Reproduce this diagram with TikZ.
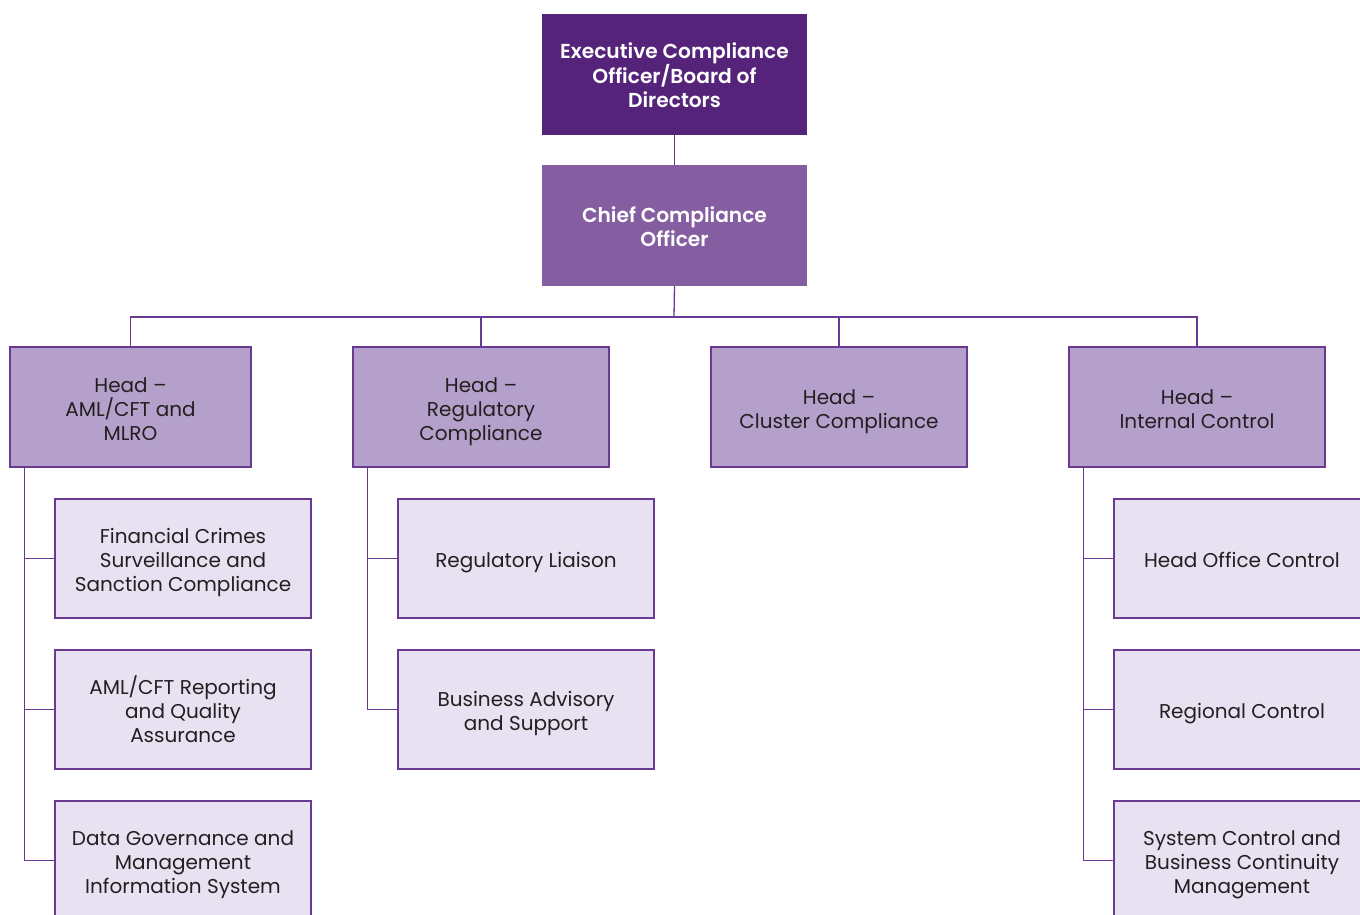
\documentclass[tikz,border=0pt]{standalone}
\usepackage{fontspec}
\setmainfont{Poppins}[BoldFont={Poppins SemiBold}]
\definecolor{cdark}{HTML}{55247A}
\definecolor{cmid}{HTML}{845EA0}
\definecolor{chead}{HTML}{B5A0CC}
\definecolor{cchild}{HTML}{E8E1F1}
\definecolor{cline}{HTML}{6A3A92}
\definecolor{ctext}{HTML}{231F20}
\begin{document}
\begin{tikzpicture}[x=1pt,y=-1pt,
  base/.style={rectangle,inner sep=0pt,align=center,execute at end node={\strut}},
  lone/.style={execute at begin node={\rule{0pt}{26pt}}},
  ltwo/.style={execute at begin node={\rule{0pt}{50pt}}},
  lthree/.style={execute at begin node={\rule{0pt}{74pt}}},
  topbox/.style={base,minimum width=265pt,minimum height=121pt,text=white,font=\fontsize{20.2}{24}\selectfont\bfseries},
  headbox/.style={base,draw=cline,line width=1.3pt,fill=chead,minimum width=256pt,minimum height=120pt,text=ctext,font=\fontsize{20}{24}\selectfont},
  childbox/.style={base,draw=cline,line width=1.3pt,fill=cchild,minimum width=256pt,minimum height=119pt,text=ctext,font=\fontsize{20}{24}\selectfont},
  conn/.style={draw=cline,line width=1.3pt}]
\clip (0,0) rectangle (1360,914);
\fill[white] (0,0) rectangle (1360,914);
\node[topbox,lthree,fill=cdark] (exec) at (674.5,74.5) {Executive Compliance\\Officer/Board of\\Directors};
\node[topbox,ltwo,fill=cmid] (cco) at (674.5,225.5) {Chief Compliance\\Officer};
\node[headbox,lthree,minimum width=241pt] (h1) at (130.5,407) {Head –\\AML/CFT and\\MLRO};
\node[headbox,lthree] (h2) at (481,407) {Head –\\Regulatory\\Compliance};
\node[headbox,ltwo] (h3) at (839,407) {Head –\\Cluster Compliance};
\node[headbox,ltwo] (h4) at (1197,407) {Head –\\Internal Control};
\node[childbox,lthree] (a1) at (183,558.5) {Financial Crimes\\Surveillance and\\Sanction Compliance};
\node[childbox,lthree] (a2) at (183,709.5) {AML/CFT Reporting\\and Quality\\Assurance};
\node[childbox,lthree] (a3) at (183,860.5) {Data Governance and\\Management\\Information System};
\node[childbox,lone] (b1) at (526,558.5) {Regulatory Liaison};
\node[childbox,ltwo] (b2) at (526,709.5) {Business Advisory\\and Support};
\node[childbox,lone] (d1) at (1242,558.5) {Head Office Control};
\node[childbox,lone] (d2) at (1242,709.5) {Regional Control};
\node[childbox,lthree] (d3) at (1242,860.5) {System Control and\\Business Continuity\\Management};
\coordinate (bus) at (674,317);
\draw[conn] (exec.south) -- (cco.north);
\draw[conn] (cco.south) -- (bus);
\draw[conn] (h1.north) |- (bus);
\draw[conn] (h2.north) |- (bus);
\draw[conn] (h3.north) |- (bus);
\draw[conn] (h4.north) |- (bus);
\foreach \c in {a1,a2,a3} \draw[conn] (h1.south west) ++(15,0) |- (\c.west);
\foreach \c in {b1,b2} \draw[conn] (h2.south west) ++(15,0) |- (\c.west);
\foreach \c in {d1,d2,d3} \draw[conn] (h4.south west) ++(15,0) |- (\c.west);
\end{tikzpicture}
\end{document}
